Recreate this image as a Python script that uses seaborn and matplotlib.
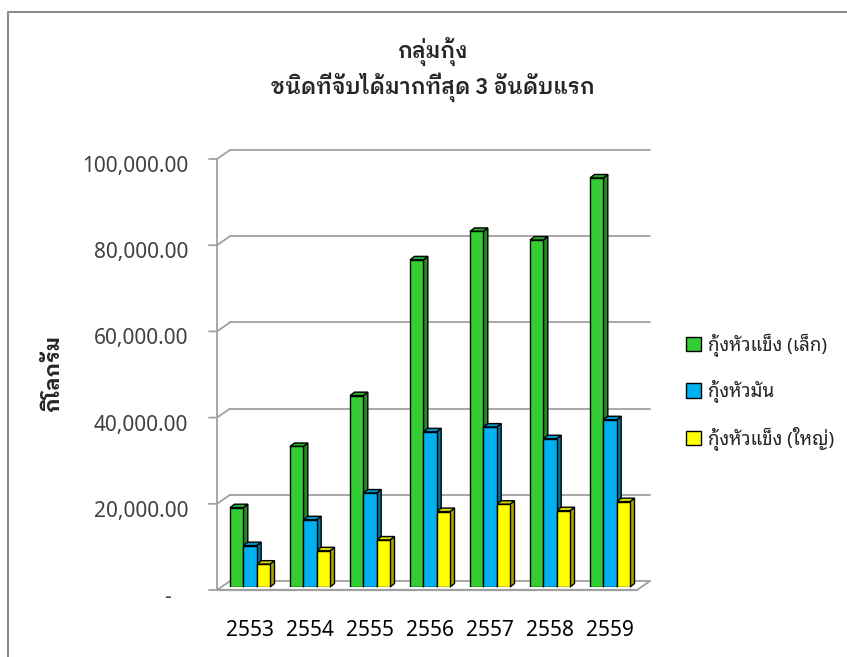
import numpy as np
import pandas as pd
import seaborn as sns
import matplotlib
matplotlib.use("Agg")
import matplotlib.pyplot as plt
from matplotlib.patches import Polygon, Patch
from matplotlib.lines import Line2D
from matplotlib.transforms import ScaledTranslation, IdentityTransform

# data (kg)
years = ["2553", "2554", "2555", "2556", "2557", "2558", "2559"]
series_names = ["กุ้งหัวแข็ง (เล็ก)", "กุ้งหัวมัน", "กุ้งหัวแข็ง (ใหญ่)"]
small_hard = [18400, 32600, 44400, 75900, 82500, 80500, 94900]
fat_head = [9600, 15600, 21800, 36000, 37100, 34400, 38800]
large_hard = [5300, 8400, 10900, 17500, 19200, 17700, 19800]
y_ticks = [0, 20000, 40000, 60000, 80000, 100000]
y_tick_labels = ["-   ", "20,000.00", "40,000.00", "60,000.00", "80,000.00", "100,000.00"]

front_colors = ["#33cc33", "#00b0f0", "#ffff00"]
side_colors = ["#238c23", "#0077a6", "#a8a800"]
top_colors = ["#2aaa2a", "#0092c8", "#d4d400"]

df = pd.DataFrame({
    "year": years * 3,
    "series": np.repeat(series_names, len(years)),
    "value": small_hard + fat_head + large_hard,
})

sns.set_style("white")
plt.rcParams["font.family"] = ["Noto Sans Thai Looped", "Noto Sans", "DejaVu Sans"]
bold_family = ["IBM Plex Sans Thai Looped", "Noto Sans Thai Looped", "DejaVu Sans"]

W, H = 847, 657
fig = plt.figure(figsize=(W / 100, H / 100), dpi=100)
# axes = plane where the bar fronts sit
ax = fig.add_axes([220 / W, 70 / H, 420 / W, 431 / H])
ax.patch.set_visible(False)

sns.barplot(data=df, x="year", y="value", hue="series", palette=front_colors,
            width=0.667, edgecolor="black", linewidth=1.0, saturation=1,
            legend=False, ax=ax)
ax.set_xlim(-0.5, 6.5)
ax.set_ylim(0, 100000)
for s in ax.spines.values():
    s.set_visible(False)
ax.set_xlabel("")

px = lambda dx, dy: ScaledTranslation(dx / 100, dy / 100, fig.dpi_scale_trans)
front = (-3, -3)
back = (10, 6)
grid_c = "#a0a0a0"

# back wall gridlines and left wall diagonals / ticks
for v in y_ticks:
    ax.plot([-0.5, 6.5], [v, v], color=grid_c, lw=1.3, clip_on=False, zorder=0.5,
            transform=ax.transData + px(*back))
    anchor = fig.dpi_scale_trans + ScaledTranslation(-0.5, v, ax.transData)
    ax.add_line(Line2D([(front[0] - 8) / 100, front[0] / 100, back[0] / 100],
                       [front[1] / 100, front[1] / 100, back[1] / 100],
                       color=grid_c, lw=1.3, clip_on=False, zorder=0.5, transform=anchor))
# front vertical axis
ax.plot([-0.5, -0.5], [0, 100000], color=grid_c, lw=1.3, clip_on=False, zorder=0.5,
        transform=ax.transData + px(*front))
# floor front edge and right edge
ax.plot([-0.5, 6.5], [0, 0], color=grid_c, lw=1.6, clip_on=False, zorder=0.5,
        transform=ax.transData + px(*front))
anchor = fig.dpi_scale_trans + ScaledTranslation(6.5, 0, ax.transData)
ax.add_line(Line2D([front[0] / 100, back[0] / 100], [front[1] / 100, back[1] / 100],
                   color=grid_c, lw=1.3, clip_on=False, zorder=0.5, transform=anchor))

# 3d side and top faces of every bar
d = (4.5, 3.5)
for i, cont in enumerate(ax.containers):
    for bar in cont:
        bar.set_zorder(3)
        x0, x1 = bar.get_x(), bar.get_x() + bar.get_width()
        h = bar.get_height()
        (ax0, ay0), (ax1, ay1) = ax.transData.transform([(x0, 0), (x1, h)])
        side = [(ax1, ay0), (ax1, ay1), (ax1 + d[0], ay1 + d[1]), (ax1 + d[0], ay0 + d[1])]
        top = [(ax0, ay1), (ax1, ay1), (ax1 + d[0], ay1 + d[1]), (ax0 + d[0], ay1 + d[1])]
        for verts, c in ((side, side_colors[i]), (top, top_colors[i])):
            ax.add_patch(Polygon(verts, closed=True, facecolor=c, edgecolor="black",
                                 lw=1.0, transform=IdentityTransform(), clip_on=False, zorder=2))

# tick labels
ax.set_yticks(y_ticks)
ax.set_yticklabels(y_tick_labels)
ax.tick_params(axis="y", length=0, pad=23, labelsize=15, labelcolor="#404040")
for lab in ax.get_yticklabels():
    lab.set_transform(lab.get_transform() + px(0, -8))
ax.tick_params(axis="x", length=0, pad=24, labelsize=15, labelcolor="black")

ax.set_ylabel("กิโลกรัม", fontsize=15, fontweight="bold", family=bold_family,
              va="center", ha="center")
ax.yaxis.set_label_coords(53 / W, 1 - 373 / H, transform=fig.transFigure)

fig.text(433 / W, 1 - 70 / H, "กลุ่มกุ้ง\nชนิดที่จับได้มากที่สุด 3 อันดับแรก",
         ha="center", va="center", fontsize=15.5, fontweight="semibold", family=bold_family,
         linespacing=1.25)

handles = [Patch(facecolor=c, edgecolor="black", lw=1.0) for c in front_colors]
fig.legend(handles, series_names, loc="center left", bbox_to_anchor=(686 / W, 1 - 392 / H),
           frameon=False, fontsize=13.5, handlelength=0.8, handleheight=0.8,
           handletextpad=0.35, labelspacing=1.25, borderpad=0, borderaxespad=0)

# chart area border
fig.add_artist(Line2D([8 / W, 8 / W, 1.0], [0.0, 1 - 12 / H, 1 - 12 / H], color="#8c8c8c",
                      lw=1.5, transform=fig.transFigure))

fig.savefig("out.png", dpi=100)
